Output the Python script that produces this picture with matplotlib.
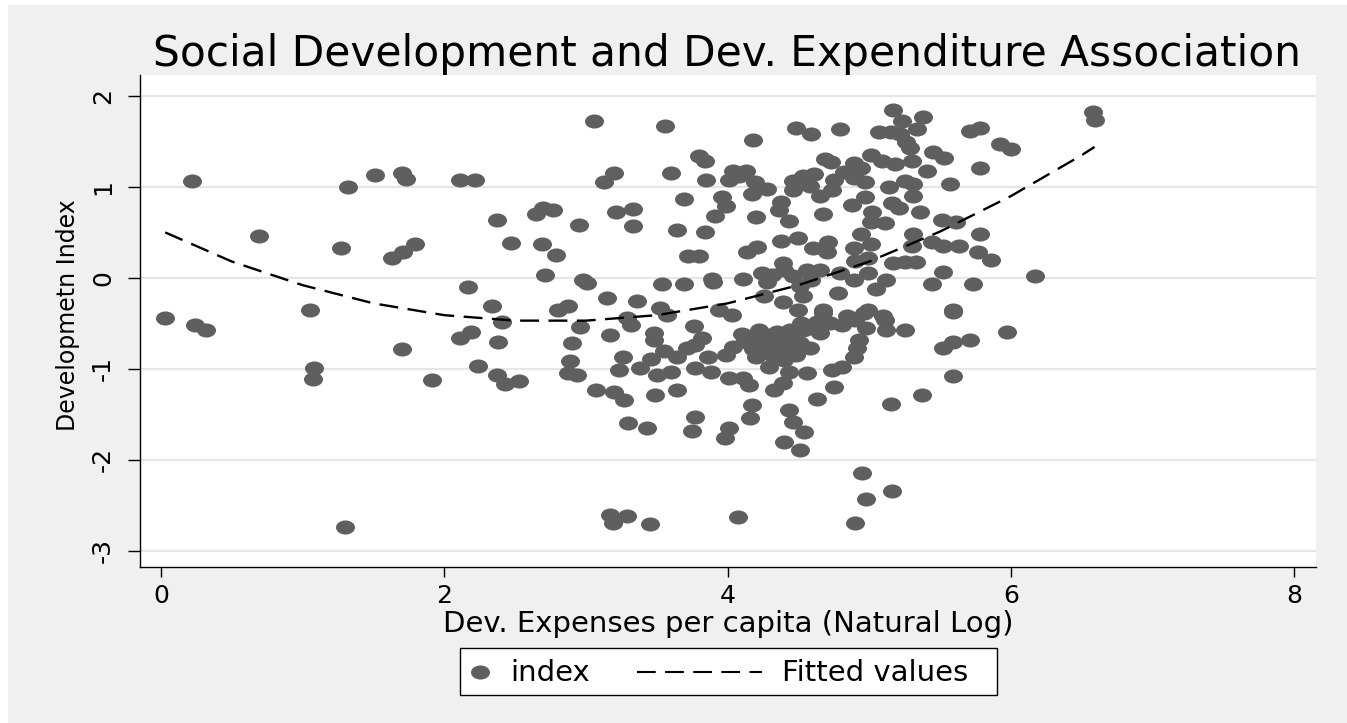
import numpy as np
import matplotlib
matplotlib.use("Agg")
import matplotlib.pyplot as plt
from matplotlib.path import Path
from matplotlib.patches import Rectangle
from matplotlib.lines import Line2D

plt.rcParams["font.family"] = ["DejaVu Sans"]
plt.rcParams["axes.unicode_minus"] = False

# ── data ─────────────────────────────────────────────────────────────────
dev_exp = [
    0.03, 0.22, 0.24, 0.32, 0.69, 1.05, 1.08, 1.07, 1.30, 1.27, 1.32, 1.51, 1.70, 1.73,
    1.63, 1.71, 1.79, 1.70, 1.91, 2.11, 2.22, 2.17, 2.11, 2.19, 2.24, 2.37, 2.34, 2.41,
    2.38, 2.37, 2.43, 2.53, 2.47, 2.65, 2.70, 2.77, 2.69, 2.79, 2.71, 2.95, 2.98, 3.01,
    2.80, 2.87, 2.96, 2.90, 2.89, 2.87, 2.94, 3.07, 3.06, 3.13, 3.20, 3.21, 3.33, 3.33,
    3.15, 3.36, 3.29, 3.32, 3.17, 3.26, 3.23, 3.38, 3.20, 3.27, 3.30, 3.17, 3.19, 3.29,
    # 3.5 - 4.5, upper half
    3.56, 4.18, 4.48, 3.80, 3.84, 3.60, 3.85, 4.04, 4.13, 4.01, 4.08, 4.19, 4.28, 4.46,
    4.17, 4.46, 3.69, 3.96, 3.99, 3.91, 4.20, 4.38, 4.36, 4.43, 3.64, 3.84, 4.38, 4.50,
    3.72, 3.80, 4.14, 4.21, 4.39, 3.54, 3.69, 3.89, 3.90, 4.11, 4.24, 4.31, 4.28, 4.40,
    4.46, 3.52, 3.57, 3.94, 4.03, 4.26, 4.39,
    # 4.5 - 6, upper half
    5.17, 5.23, 5.38, 4.59, 4.79, 5.07, 5.15, 5.22, 5.34, 5.26, 5.29, 5.71, 5.78, 5.45,
    5.53, 5.01, 5.09, 5.18, 5.30, 4.69, 4.73, 4.89, 4.94, 4.53, 4.61, 4.58, 4.65, 4.75,
    4.82, 4.89, 4.97, 4.74, 4.91, 5.41, 5.57, 5.14, 5.25, 5.31, 4.97, 5.31, 4.88, 5.16,
    5.21, 4.67, 5.02, 5.01, 5.11, 5.36, 5.51, 5.61, 4.60, 4.71, 4.70, 4.89, 4.94, 5.01,
    5.31, 5.30, 5.44, 5.52, 5.63, 5.78, 5.77, 5.78, 4.90, 4.99, 5.17, 5.25, 5.33, 4.56,
    4.65, 4.59, 4.79, 4.99, 4.89, 5.12, 5.52, 5.44, 5.73, 4.51, 5.05, 4.78, 4.53, 5.59,
    4.67, 4.99, 5.10, 4.84,
    6.58, 6.59, 5.92, 6.00, 5.86, 6.17,
    # 3.4 - 4.5, lower half
    3.48, 3.48, 3.76, 3.82, 3.55, 3.64, 3.71, 3.77, 3.46, 3.50, 3.60, 3.77, 3.88, 3.86,
    3.99, 4.04, 4.01, 4.11, 4.15, 4.23, 4.30, 4.37, 4.44, 4.20, 4.29, 4.43, 4.33, 4.39,
    3.49, 3.64, 4.17, 4.16, 3.43, 3.77, 3.75, 4.01, 3.98, 4.43, 4.46, 4.40, 4.51, 3.45,
    4.07, 4.22, 4.32, 4.42, 4.12, 4.31, 4.50,
    4.10, 4.15, 4.25, 4.35, 4.45, 4.40, 4.48, 4.27, 4.18, 4.52, 4.58,
    # 4.5 - 6, lower half
    4.67, 4.96, 4.63, 4.72, 4.81, 4.90, 4.98, 5.11, 5.12, 5.25, 5.59, 5.52, 5.59, 5.71,
    4.53, 4.65, 4.58, 4.51, 4.93, 4.91, 4.89, 4.81, 4.74, 4.56, 4.75, 4.63, 4.54, 5.59,
    5.37, 5.15, 4.95, 5.16, 4.98, 4.90, 5.97,
]
dev_index = [
    -0.44, 1.06, -0.52, -0.57, 0.46, -0.35, -0.99, -1.11, -2.74, 0.33, 1.00, 1.13, 1.15, 1.09,
    0.22, 0.28, 0.37, -0.78, -1.12, 1.08, 1.08, -0.10, -0.66, -0.60, -0.97, 0.64, -0.31, -0.49,
    -0.71, -1.07, -1.17, -1.13, 0.38, 0.70, 0.77, 0.75, 0.37, 0.25, 0.03, 0.58, -0.02, -0.06,
    -0.35, -0.31, -0.54, -0.72, -0.91, -1.05, -1.07, -1.23, 1.72, 1.05, 1.15, 0.72, 0.76, 0.57,
    -0.22, -0.25, -0.44, -0.52, -0.63, -0.87, -1.01, -0.99, -1.26, -1.34, -1.60, -2.61, -2.69, -2.62,
    1.67, 1.52, 1.65, 1.34, 1.29, 1.15, 1.08, 1.18, 1.18, 1.08, 1.12, 1.05, 0.98, 1.07,
    0.92, 0.97, 0.87, 0.89, 0.79, 0.68, 0.67, 0.84, 0.75, 0.63, 0.53, 0.51, 0.41, 0.44,
    0.24, 0.24, 0.29, 0.34, 0.16, -0.07, -0.07, -0.01, -0.04, -0.01, 0.05, 0.03, -0.04, 0.09,
    0.02, -0.33, -0.41, -0.35, -0.41, -0.20, -0.26,
    1.85, 1.73, 1.77, 1.58, 1.64, 1.60, 1.60, 1.58, 1.64, 1.49, 1.43, 1.62, 1.65, 1.38,
    1.32, 1.35, 1.29, 1.25, 1.28, 1.31, 1.27, 1.26, 1.21, 1.12, 1.14, 1.01, 0.90, 1.08,
    1.16, 1.10, 1.05, 0.97, 1.19, 1.18, 1.03, 1.00, 1.07, 1.03, 0.89, 0.90, 0.80, 0.82,
    0.77, 0.70, 0.73, 0.62, 0.60, 0.72, 0.64, 0.62, 0.33, 0.39, 0.29, 0.33, 0.48, 0.37,
    0.48, 0.35, 0.40, 0.35, 0.35, 0.48, 0.29, 1.21, 0.19, 0.22, 0.16, 0.17, 0.18, 0.09,
    0.09, -0.02, 0.05, 0.05, -0.02, -0.02, 0.07, -0.07, -0.07, -0.09, -0.12, -0.17, -0.20, -0.35,
    -0.35, -0.35, -0.42, -0.42,
    1.82, 1.74, 1.47, 1.42, 0.20, 0.02,
    -0.61, -0.68, -0.53, -0.66, -0.80, -0.87, -0.77, -0.74, -0.89, -1.07, -1.04, -0.99, -1.04, -0.87,
    -0.85, -0.76, -1.10, -1.10, -1.18, -0.65, -0.63, -0.68, -0.57, -0.87, -0.98, -1.03, -1.23, -1.16,
    -1.29, -1.23, -1.40, -1.54, -1.65, -1.53, -1.68, -1.65, -1.76, -1.45, -1.58, -1.80, -1.89, -2.71,
    -2.63, -0.57, -0.74, -0.78, -0.69, -0.85, -0.35,
    -0.62, -0.72, -0.80, -0.60, -0.66, -0.90, -0.85, -0.72, -0.78, -0.50, -0.55,
    -0.39, -0.39, -0.48, -0.50, -0.52, -0.46, -0.55, -0.46, -0.57, -0.57, -0.37, -0.77, -0.70, -0.68,
    -0.57, -0.61, -0.77, -0.72, -0.68, -0.77, -0.87, -0.98, -1.01, -1.05, -1.20, -1.33, -1.70, -1.08,
    -1.29, -1.39, -2.14, -2.34, -2.43, -2.69, -0.60,
]

# quadratic fit line as drawn in the reference
fit_x = [0.03, 0.5, 1.0, 1.5, 2.0, 2.5, 3.0, 3.5, 4.0, 4.5, 5.0, 5.5, 6.0, 6.5, 6.59]
fit_y = [0.50, 0.18, -0.08, -0.28, -0.41, -0.47, -0.47, -0.41, -0.28, -0.08, 0.18, 0.51, 0.90, 1.35, 1.44]

x_ticks = [0, 2, 4, 6, 8]
y_ticks = [-3, -2, -1, 0, 1, 2]
y_tick_labels = ["-3", "-2", "-1", "0", "1", "2"]

title = "Social Development and Dev. Expenditure Association"
x_title = "Dev. Expenses per capita (Natural Log)"
y_title = "Developmetn Index"
legend_labels = ["index", "Fitted values"]

# ── figure ────────────────────────────────────────────────────────────────
W, H = 1347, 723
fig = plt.figure(figsize=(W / 100, H / 100), dpi=100, facecolor="#f0f0f0")

def fx(px):
    return px / W

def fy(py):
    return 1 - py / H

# white page margins at top / left
fig.add_artist(Rectangle((0, fy(5)), 1, 1, transform=fig.transFigure, fc="white", ec="none"))
fig.add_artist(Rectangle((0, 0), fx(8), 1, transform=fig.transFigure, fc="white", ec="none"))

ax = fig.add_axes([fx(140), fy(567), fx(1316) - fx(140), fy(75) - fy(567)])
ax.set_facecolor("white")

circ = Path.unit_circle()
ell = Path(circ.vertices * [1.0, 0.74], circ.codes)
dot_col = "#5f5f5f"
dash = (0, (8, 4))

ax.plot(dev_exp, dev_index, ls="none", marker=ell, ms=13.7, mfc=dot_col, mec="none", zorder=3)
ax.plot(fit_x, fit_y, color="black", lw=1.7, ls=dash, zorder=4)

ax.set_xlim(-0.148, 8.153)
ax.set_ylim(-3.179, 2.231)
ax.set_xticks(x_ticks)
ax.set_yticks(y_ticks, labels=y_tick_labels, rotation=90, va="center")
ax.tick_params(axis="both", width=1, color="black", direction="out")
ax.tick_params(axis="x", labelsize=18, pad=5, length=7)
ax.tick_params(axis="y", labelsize=18, pad=9, length=9)
ax.grid(axis="y", color="#e6e6e6", lw=1.6)
ax.set_axisbelow(True)
for s in ["top", "right"]:
    ax.spines[s].set_visible(False)
for s in ["left", "bottom"]:
    ax.spines[s].set_linewidth(1.0)
    ax.spines[s].set_color("black")

fig.text(fx(727), fy(66), title, ha="center", va="baseline", fontsize=30.4)
fig.text(fx(728), fy(632), x_title, ha="center", va="baseline", fontsize=21)
fig.text(fx(75), fy(315), y_title, rotation=90, rotation_mode="anchor",
         ha="center", va="baseline", fontsize=17)

# legend box below the plot
fig.add_artist(Rectangle((fx(460), fy(695)), fx(997) - fx(460), fy(648) - fy(695),
                         transform=fig.transFigure, fc="white", ec="black", lw=1.0))
fig.add_artist(Line2D([fx(480)], [fy(672)], transform=fig.transFigure, ls="none",
                      marker=ell, ms=13.7, mfc=dot_col, mec="none"))
fig.add_artist(Line2D([fx(637), fx(762)], [fy(672), fy(672)], transform=fig.transFigure,
                      color="black", lw=1.5, ls=(0, (9, 4.5))))
fig.text(fx(510), fy(681), legend_labels[0], ha="left", va="baseline", fontsize=21)
fig.text(fx(782), fy(681), legend_labels[1], ha="left", va="baseline", fontsize=21)

fig.savefig("out.png", dpi=100, facecolor=fig.get_facecolor())
